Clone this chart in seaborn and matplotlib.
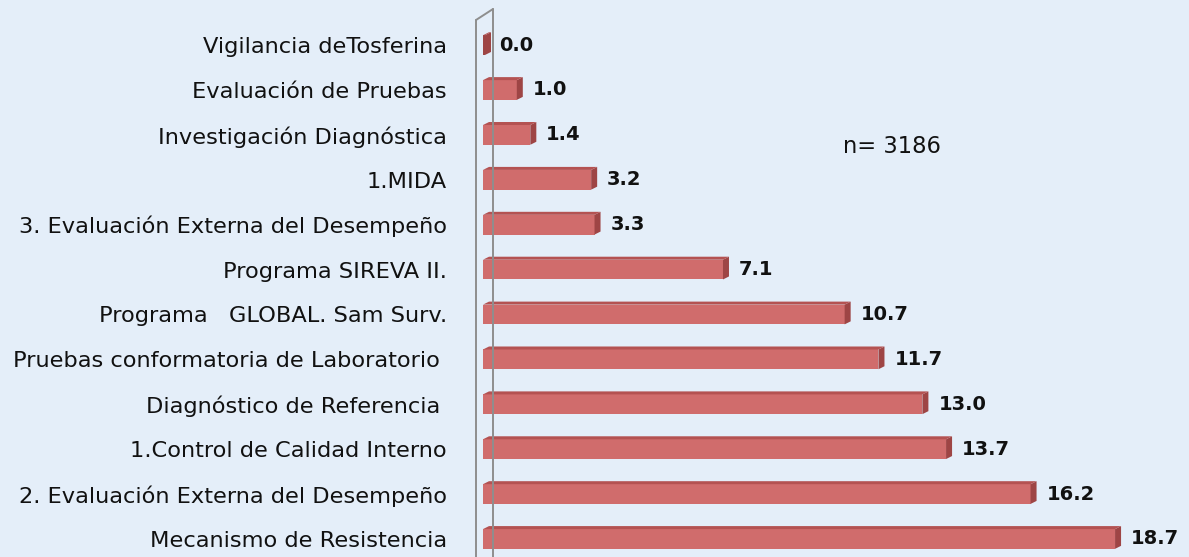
import numpy as np
import pandas as pd
import matplotlib
matplotlib.use("Agg")
import matplotlib.pyplot as plt
from matplotlib.patches import Polygon
from matplotlib.lines import Line2D
import seaborn as sns

categories = [
    "Vigilancia deTosferina",
    "Evaluación de Pruebas",
    "Investigación Diagnóstica",
    "1.MIDA",
    "3. Evaluación Externa del Desempeño",
    "Programa SIREVA II.",
    "Programa   GLOBAL. Sam Surv.",
    "Pruebas conformatoria de Laboratorio ",
    "Diagnóstico de Referencia ",
    "1.Control de Calidad Interno",
    "2. Evaluación Externa del Desempeño",
    "Mecanismo de Resistencia",
]
values = [0.0, 1.0, 1.4, 3.2, 3.3, 7.1, 10.7, 11.7, 13.0, 13.7, 16.2, 18.7]
n_note = "n= 3186"

front_color = "#D06C6C"
side_color = "#9E4545"
top_color = "#B45252"
bg_color = "#E4EEF9"

df = pd.DataFrame({"categoria": categories, "valor": values})

sns.set_theme(style="white")
plt.rcParams["font.family"] = ["DejaVu Sans"]

W, H = 1189, 557
fig = plt.figure(figsize=(W / 100, H / 100), dpi=100)
fig.patch.set_facecolor(bg_color)

x0_px = 483
px_per_unit = 33.8
ax = fig.add_axes([x0_px / W, 0, 1 - x0_px / W, 1])
ax.set_facecolor("none")

sns.barplot(data=df, y="categoria", x="valor", orient="h", color=front_color,
            width=0.44, saturation=1, ax=ax, edgecolor="none")

ax.set_xlim(0, (W - x0_px) / px_per_unit)
# first bar centre ~44px from top, spacing ~44.8px
step = 44.8
ax.set_ylim(11 + (H - 539) / step, -45 / step)

for s in ax.spines.values():
    s.set_visible(False)
ax.set_xticks([])
ax.set_xlabel("")
ax.set_ylabel("")
ax.tick_params(axis="y", length=0, pad=26)
for lab in ax.get_yticklabels():
    lab.set_fontsize(16.2)
    lab.set_color("#111111")

# 3D faces on each bar
dx, dy = 6, 3
to_disp = ax.transData.transform
to_data = ax.transData.inverted().transform
for p in list(ax.patches):
    xl, yt = p.get_x(), p.get_y()
    xr, yb = xl + p.get_width(), yt + p.get_height()
    (axl, ayt), (axr, ayb) = to_disp([(xl, yt), (xr, yb)])
    if axr - axl < 2:
        # zero-valued bar: show only a thin dark sliver
        p.set_facecolor(side_color)
        axr = axl + 2
        p.set_width(to_data((axr, ayb))[0] - xl)
    side = [(axr, ayt), (axr, ayb), (axr + dx, ayb + dy), (axr + dx, ayt + dy)]
    top = [(axl, ayt), (axr, ayt), (axr + dx, ayt + dy), (axl + dx, ayt + dy)]
    ax.add_patch(Polygon(to_data(side), closed=True, facecolor=side_color,
                         edgecolor="none", zorder=3))
    ax.add_patch(Polygon(to_data(top), closed=True, facecolor=top_color,
                         edgecolor="none", zorder=3))

# value labels
for i, v in enumerate(values):
    ax.annotate(f"{v:.1f}", xy=(v, i), xytext=(11.5, 0), textcoords="offset points",
                ha="left", va="center", fontsize=14, fontweight="bold",
                color="#111111")

# wall (thin 3D back plane at the category axis)
wall = dict(color="#8E8E8E", lw=1.4, transform=None)
lx, rx = x0_px - 7, x0_px + 10
fig.add_artist(Line2D([lx, lx], [0, H - 20], **wall))
fig.add_artist(Line2D([rx, rx], [0, H - 9], **wall))
fig.add_artist(Line2D([lx, rx], [H - 20, H - 9], **wall))

fig.text(843 / W, 1 - 147 / H, n_note, fontsize=16.3, color="#111111",
         ha="left", va="center")

fig.savefig("out.png", dpi=100, facecolor=bg_color)
